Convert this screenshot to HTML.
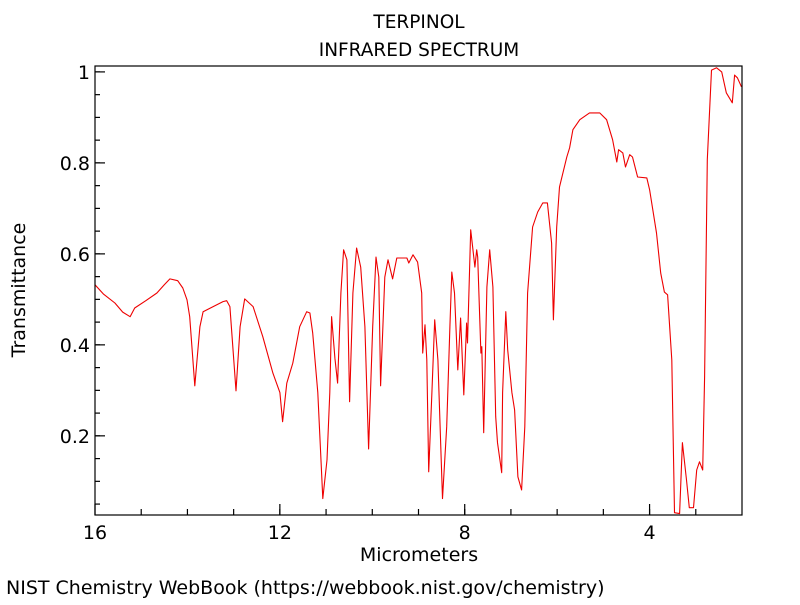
<!DOCTYPE html>
<html><head><meta charset="utf-8"><style>
body{margin:0;background:#fff;}
svg text{font-family:"DejaVu Sans","Liberation Sans",sans-serif;fill:#000;}
</style></head><body>
<svg id="chart" width="800" height="600" xmlns="http://www.w3.org/2000/svg">
<text x="419" y="28" font-size="18.5" text-anchor="middle">TERPINOL</text>
<text x="419" y="56" font-size="18.5" text-anchor="middle">INFRARED SPECTRUM</text>
<text transform="translate(25,290) rotate(-90)" font-size="19" text-anchor="middle">Transmittance</text>
<text x="419" y="561" font-size="19" text-anchor="middle">Micrometers</text>
<text x="6" y="594" font-size="19">NIST Chemistry WebBook (https://webbook.nist.gov/chemistry)</text>
<defs><clipPath id="clip"><rect x="95" y="66" width="647" height="449"/></clipPath></defs>
<g id="axes"></g>
<path id="spectrum" fill="none" stroke="#e00" stroke-width="1.1" stroke-linejoin="round" clip-path="url(#clip)"/>
<rect x="95" y="66" width="647" height="449" fill="none" stroke="#000" stroke-width="1.2"/>
</svg>
<script>
const wavelengths=[16.00,15.82,15.57,15.40,15.24,15.14,14.90,14.66,14.50,14.38,14.21,14.10,14.01,13.95,13.84,13.73,13.66,13.23,13.15,13.08,12.95,12.86,12.76,12.58,12.37,12.15,12.00,11.94,11.85,11.72,11.57,11.42,11.35,11.29,11.18,11.07,10.98,10.92,10.88,10.81,10.75,10.68,10.62,10.55,10.49,10.42,10.34,10.25,10.16,10.08,9.99,9.92,9.86,9.82,9.73,9.66,9.56,9.47,9.25,9.21,9.12,9.02,8.93,8.91,8.86,8.82,8.78,8.71,8.65,8.58,8.48,8.39,8.32,8.28,8.22,8.15,8.09,8.02,7.96,7.94,7.87,7.78,7.74,7.72,7.65,7.63,7.59,7.52,7.46,7.39,7.33,7.29,7.20,7.18,7.11,7.07,6.98,6.92,6.85,6.77,6.70,6.64,6.53,6.42,6.31,6.21,6.12,6.08,6.01,5.95,5.79,5.73,5.66,5.51,5.30,5.08,4.93,4.80,4.71,4.67,4.58,4.52,4.43,4.37,4.26,4.06,4.00,3.85,3.76,3.68,3.61,3.52,3.46,3.35,3.29,3.20,3.14,3.05,2.98,2.92,2.85,2.81,2.75,2.66,2.55,2.44,2.34,2.21,2.16,2.10,2.01];
const transmittance=[0.532,0.512,0.492,0.472,0.462,0.481,0.497,0.514,0.532,0.545,0.541,0.525,0.499,0.462,0.310,0.440,0.473,0.495,0.497,0.484,0.299,0.440,0.501,0.484,0.418,0.338,0.295,0.231,0.316,0.360,0.440,0.473,0.470,0.426,0.295,0.062,0.147,0.295,0.462,0.371,0.316,0.514,0.609,0.587,0.275,0.514,0.613,0.571,0.440,0.171,0.440,0.593,0.549,0.310,0.549,0.587,0.545,0.591,0.591,0.580,0.598,0.582,0.514,0.382,0.444,0.367,0.121,0.295,0.455,0.367,0.062,0.220,0.440,0.560,0.514,0.345,0.459,0.290,0.448,0.404,0.653,0.571,0.609,0.593,0.382,0.396,0.207,0.527,0.609,0.527,0.242,0.185,0.119,0.295,0.473,0.389,0.295,0.257,0.110,0.081,0.220,0.514,0.659,0.692,0.712,0.712,0.624,0.455,0.659,0.747,0.813,0.833,0.873,0.895,0.910,0.910,0.895,0.851,0.802,0.829,0.822,0.791,0.818,0.813,0.769,0.767,0.741,0.646,0.558,0.516,0.510,0.367,0.031,0.029,0.185,0.103,0.042,0.042,0.125,0.143,0.125,0.330,0.807,1.004,1.009,1.000,0.954,0.932,0.993,0.987,0.967];
const xMajorTicks=[16,12,8,4];
const yMajorTicks=[0.2,0.4,0.6,0.8,1];
const yTickLabels=["0.2","0.4","0.6","0.8","1"];

const X0=95,X1=742,Y0=66,Y1=515;
const xMin=16,xMax=2,yMin=0.026,yMax=1.013;
function xs(v){return X0+(v-xMin)/(xMax-xMin)*(X1-X0);}
function ys(v){return Y1-(v-yMin)/(yMax-yMin)*(Y1-Y0);}
const NS="http://www.w3.org/2000/svg";
const axes=document.getElementById('axes');
function line(x1,y1,x2,y2,name){
  const l=document.createElementNS(NS,'line');
  l.setAttribute('x1',x1);l.setAttribute('y1',y1);l.setAttribute('x2',x2);l.setAttribute('y2',y2);
  l.setAttribute('stroke','#000');l.setAttribute('stroke-width','1.2');
  
  
  axes.appendChild(l);
}
function text(x,y,s,anchor,name){
  const t=document.createElementNS(NS,'text');
  t.setAttribute('x',x);t.setAttribute('y',y);t.setAttribute('font-size','19');t.setAttribute('text-anchor',anchor);
  t.textContent=s;
  
  
  axes.appendChild(t);
}
for(let v=15;v>=2;v--){const x=xs(v);if(x<X1-1)line(x,Y1,x,Y1-6,'x-minor-tick');}
xMajorTicks.forEach(v=>{const x=xs(v);line(x,Y1,x,Y1-11,'x-major-tick');text(x,Y1+24,String(v),'middle','x-tick-label');});
for(let k=1;k*0.05<=yMax;k++){const v=k*0.05;if(v<yMin)continue;const y=ys(v);line(X0,y,X0+5,y,'y-minor-tick');}
yMajorTicks.forEach((v,i)=>{const y=ys(v);line(X0,y,X0+10,y,'y-major-tick');text(X0-5,y+7,yTickLabels[i],'end','y-tick-label');});
let d='';
wavelengths.forEach((w,i)=>{d+=(i?'L':'M')+xs(w).toFixed(1)+','+ys(transmittance[i]).toFixed(1);});
document.getElementById('spectrum').setAttribute('d',d);
</script>
</body></html>
